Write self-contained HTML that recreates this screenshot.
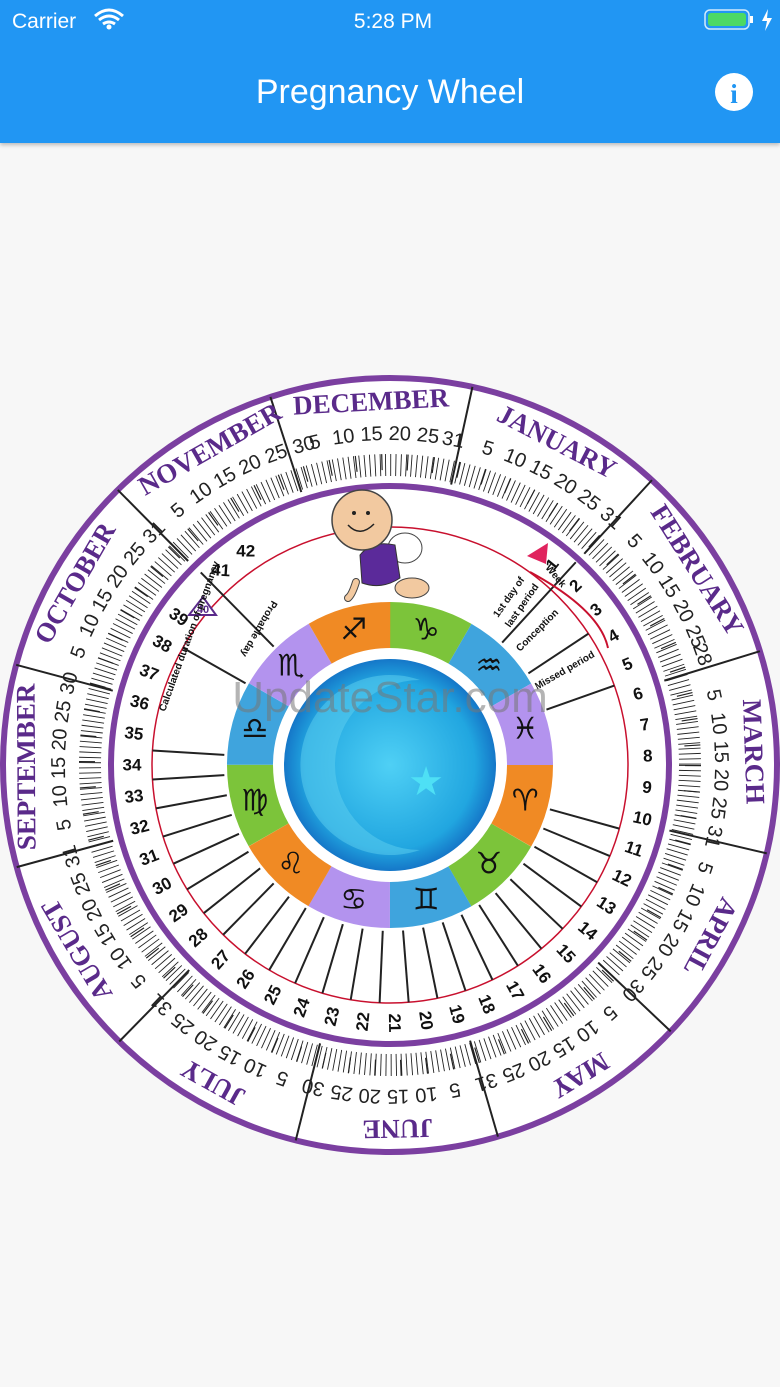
<!DOCTYPE html>
<html><head><meta charset="utf-8"><style>
body{margin:0;width:780px;height:1387px;background:#f7f7f7;font-family:"Liberation Sans",sans-serif;overflow:hidden;position:relative}
.bar{position:absolute;left:0;top:0;width:780px;height:143px;background:#2196f3;box-shadow:0 2px 4px rgba(0,0,0,.25)}
</style></head><body>
<div class="bar"></div>
<svg width="780" height="1387" style="position:absolute;left:0;top:0">
<defs>
<radialGradient id="cg" cx="50%" cy="50%" r="50%"><stop offset="0" stop-color="#4fd0f5"/><stop offset="0.8" stop-color="#21a6e0"/><stop offset="1" stop-color="#1577c8"/></radialGradient>
</defs>
<text x="12" y="28" font-size="21" fill="#fff">Carrier</text>
<path d="M95 16 q14 -12 28 0 M99 20 q10 -8 20 0 M103 24 q6 -4 12 0" stroke="#fff" stroke-width="3" fill="none"/>
<circle cx="109" cy="27" r="2.5" fill="#fff"/>
<text x="393" y="28" font-size="21" fill="#fff" text-anchor="middle">5:28 PM</text>
<rect x="705" y="10" width="44" height="19" rx="5" fill="none" stroke="#fff" stroke-width="1.5" opacity=".8"/>
<rect x="708" y="13" width="38" height="13" rx="3" fill="#4cd964"/>
<rect x="750" y="16" width="3" height="7" fill="#fff"/>
<path d="M768 9 l-6 12 h5 l-2 10 7-13 h-5z" fill="#fff"/>
<text x="390" y="103" font-size="34" fill="#fff" text-anchor="middle">Pregnancy Wheel</text>
<circle cx="734" cy="92" r="19" fill="#fff"/>
<text x="734" y="103" font-size="27" font-weight="bold" fill="#2196f3" text-anchor="middle" font-family="Liberation Serif">i</text>

<g>
<circle cx="390" cy="765" r="387" fill="#fff" stroke="#7b3fa0" stroke-width="6"/>
<circle cx="390" cy="765" r="300" fill="none" stroke="#222" stroke-width="22" stroke-dasharray="0.9 4.26"/>
<circle cx="390" cy="765" r="303" fill="none" stroke="#222" stroke-width="16" stroke-dasharray="1.2 24.6"/>
<circle cx="390" cy="765" r="279" fill="#fff" stroke="#7b3fa0" stroke-width="6"/>
<circle cx="390" cy="765" r="238" fill="none" stroke="#c8102e" stroke-width="1.5"/>
<g stroke="#222" stroke-width="2">
<line x1="390" y1="378" x2="390" y2="478" transform="rotate(-18 390 765)"/>
<line x1="390" y1="378" x2="390" y2="478" transform="rotate(12.3 390 765)"/>
<line x1="390" y1="378" x2="390" y2="478" transform="rotate(42.6 390 765)"/>
<line x1="390" y1="378" x2="390" y2="478" transform="rotate(72.9 390 765)"/>
<line x1="390" y1="378" x2="390" y2="478" transform="rotate(103.2 390 765)"/>
<line x1="390" y1="378" x2="390" y2="478" transform="rotate(133.5 390 765)"/>
<line x1="390" y1="378" x2="390" y2="478" transform="rotate(163.8 390 765)"/>
<line x1="390" y1="378" x2="390" y2="478" transform="rotate(194.1 390 765)"/>
<line x1="390" y1="378" x2="390" y2="478" transform="rotate(224.4 390 765)"/>
<line x1="390" y1="378" x2="390" y2="478" transform="rotate(254.7 390 765)"/>
<line x1="390" y1="378" x2="390" y2="478" transform="rotate(285 390 765)"/>
<line x1="390" y1="378" x2="390" y2="478" transform="rotate(315.3 390 765)"/>
</g>
<g font-family="Liberation Serif" font-size="27" fill="#5a2a8a" text-anchor="middle" font-weight="bold">
<text x="390" y="410" transform="rotate(-3 390 765)">DECEMBER</text>
<text x="390" y="410" transform="rotate(27.3 390 765)">JANUARY</text>
<text x="390" y="410" transform="rotate(57.6 390 765)">FEBRUARY</text>
<text x="390" y="410" transform="rotate(87.9 390 765)">MARCH</text>
<text x="390" y="410" transform="rotate(118.2 390 765)">APRIL</text>
<text x="390" y="410" transform="rotate(148.5 390 765)">MAY</text>
<text x="390" y="410" transform="rotate(178.8 390 765)">JUNE</text>
<text x="390" y="410" transform="rotate(209.1 390 765)">JULY</text>
<text x="390" y="410" transform="rotate(239.4 390 765)">AUGUST</text>
<text x="390" y="410" transform="rotate(269.7 390 765)">SEPTEMBER</text>
<text x="390" y="410" transform="rotate(300 390 765)">OCTOBER</text>
<text x="390" y="410" transform="rotate(330.3 390 765)">NOVEMBER</text>
</g>
<g font-size="20" fill="#222" text-anchor="middle">
<text x="390" y="440" transform="rotate(-13.1 390 765)">5</text><text x="390" y="440" transform="rotate(-8.1 390 765)">10</text><text x="390" y="440" transform="rotate(-3.2 390 765)">15</text><text x="390" y="440" transform="rotate(1.7 390 765)">20</text><text x="390" y="440" transform="rotate(6.6 390 765)">25</text><text x="390" y="440" transform="rotate(11 390 765)">31</text>
<text x="390" y="440" transform="rotate(17.2 390 765)">5</text><text x="390" y="440" transform="rotate(22.2 390 765)">10</text><text x="390" y="440" transform="rotate(27.1 390 765)">15</text><text x="390" y="440" transform="rotate(32 390 765)">20</text><text x="390" y="440" transform="rotate(36.9 390 765)">25</text><text x="390" y="440" transform="rotate(41.9 390 765)">31</text>
<text x="390" y="440" transform="rotate(47.5 390 765)">5</text><text x="390" y="440" transform="rotate(52.5 390 765)">10</text><text x="390" y="440" transform="rotate(57.4 390 765)">15</text><text x="390" y="440" transform="rotate(62.3 390 765)">20</text><text x="390" y="440" transform="rotate(67.2 390 765)">25</text><text x="390" y="440" transform="rotate(70.5 390 765)">28</text>
<text x="390" y="440" transform="rotate(77.8 390 765)">5</text><text x="390" y="440" transform="rotate(82.8 390 765)">10</text><text x="390" y="440" transform="rotate(87.7 390 765)">15</text><text x="390" y="440" transform="rotate(92.6 390 765)">20</text><text x="390" y="440" transform="rotate(97.5 390 765)">25</text><text x="390" y="440" transform="rotate(102.5 390 765)">31</text>
<text x="390" y="440" transform="rotate(108.1 390 765)">5</text><text x="390" y="440" transform="rotate(113.1 390 765)">10</text><text x="390" y="440" transform="rotate(118 390 765)">15</text><text x="390" y="440" transform="rotate(122.9 390 765)">20</text><text x="390" y="440" transform="rotate(127.8 390 765)">25</text><text x="390" y="440" transform="rotate(132.8 390 765)">30</text>
<text x="390" y="440" transform="rotate(138.4 390 765)">5</text><text x="390" y="440" transform="rotate(143.4 390 765)">10</text><text x="390" y="440" transform="rotate(148.3 390 765)">15</text><text x="390" y="440" transform="rotate(153.2 390 765)">20</text><text x="390" y="440" transform="rotate(158.1 390 765)">25</text><text x="390" y="440" transform="rotate(163.1 390 765)">31</text>
<text x="390" y="440" transform="rotate(168.7 390 765)">5</text><text x="390" y="440" transform="rotate(173.7 390 765)">10</text><text x="390" y="440" transform="rotate(178.6 390 765)">15</text><text x="390" y="440" transform="rotate(183.5 390 765)">20</text><text x="390" y="440" transform="rotate(188.4 390 765)">25</text><text x="390" y="440" transform="rotate(193.4 390 765)">30</text>
<text x="390" y="440" transform="rotate(199 390 765)">5</text><text x="390" y="440" transform="rotate(204 390 765)">10</text><text x="390" y="440" transform="rotate(208.9 390 765)">15</text><text x="390" y="440" transform="rotate(213.8 390 765)">20</text><text x="390" y="440" transform="rotate(218.7 390 765)">25</text><text x="390" y="440" transform="rotate(223.7 390 765)">31</text>
<text x="390" y="440" transform="rotate(229.3 390 765)">5</text><text x="390" y="440" transform="rotate(234.3 390 765)">10</text><text x="390" y="440" transform="rotate(239.2 390 765)">15</text><text x="390" y="440" transform="rotate(244.1 390 765)">20</text><text x="390" y="440" transform="rotate(249 390 765)">25</text><text x="390" y="440" transform="rotate(254 390 765)">31</text>
<text x="390" y="440" transform="rotate(259.6 390 765)">5</text><text x="390" y="440" transform="rotate(264.6 390 765)">10</text><text x="390" y="440" transform="rotate(269.5 390 765)">15</text><text x="390" y="440" transform="rotate(274.4 390 765)">20</text><text x="390" y="440" transform="rotate(279.3 390 765)">25</text><text x="390" y="440" transform="rotate(284.3 390 765)">30</text>
<text x="390" y="440" transform="rotate(289.9 390 765)">5</text><text x="390" y="440" transform="rotate(294.9 390 765)">10</text><text x="390" y="440" transform="rotate(299.8 390 765)">15</text><text x="390" y="440" transform="rotate(304.7 390 765)">20</text><text x="390" y="440" transform="rotate(309.6 390 765)">25</text><text x="390" y="440" transform="rotate(314.6 390 765)">31</text>
<text x="390" y="440" transform="rotate(320.2 390 765)">5</text><text x="390" y="440" transform="rotate(325.2 390 765)">10</text><text x="390" y="440" transform="rotate(330.1 390 765)">15</text><text x="390" y="440" transform="rotate(335 390 765)">20</text><text x="390" y="440" transform="rotate(339.9 390 765)">25</text><text x="390" y="440" transform="rotate(344.9 390 765)">30</text>
</g>
<g stroke="#222" stroke-width="2">
<line x1="390" y1="603" x2="390" y2="527" transform="rotate(105.5 390 765)"/>
<line x1="390" y1="603" x2="390" y2="527" transform="rotate(112.5 390 765)"/>
<line x1="390" y1="603" x2="390" y2="527" transform="rotate(119.5 390 765)"/>
<line x1="390" y1="603" x2="390" y2="527" transform="rotate(126.5 390 765)"/>
<line x1="390" y1="603" x2="390" y2="527" transform="rotate(133.5 390 765)"/>
<line x1="390" y1="603" x2="390" y2="527" transform="rotate(140.5 390 765)"/>
<line x1="390" y1="603" x2="390" y2="527" transform="rotate(147.5 390 765)"/>
<line x1="390" y1="603" x2="390" y2="527" transform="rotate(154.5 390 765)"/>
<line x1="390" y1="603" x2="390" y2="527" transform="rotate(161.5 390 765)"/>
<line x1="390" y1="603" x2="390" y2="527" transform="rotate(168.5 390 765)"/>
<line x1="390" y1="603" x2="390" y2="527" transform="rotate(175.5 390 765)"/>
<line x1="390" y1="603" x2="390" y2="527" transform="rotate(182.5 390 765)"/>
<line x1="390" y1="603" x2="390" y2="527" transform="rotate(189.5 390 765)"/>
<line x1="390" y1="603" x2="390" y2="527" transform="rotate(196.5 390 765)"/>
<line x1="390" y1="603" x2="390" y2="527" transform="rotate(203.5 390 765)"/>
<line x1="390" y1="603" x2="390" y2="527" transform="rotate(210.5 390 765)"/>
<line x1="390" y1="603" x2="390" y2="527" transform="rotate(217.5 390 765)"/>
<line x1="390" y1="603" x2="390" y2="527" transform="rotate(224.5 390 765)"/>
<line x1="390" y1="603" x2="390" y2="527" transform="rotate(231.5 390 765)"/>
<line x1="390" y1="603" x2="390" y2="527" transform="rotate(238.5 390 765)"/>
<line x1="390" y1="603" x2="390" y2="527" transform="rotate(245.5 390 765)"/>
<line x1="390" y1="603" x2="390" y2="527" transform="rotate(252.5 390 765)"/>
<line x1="390" y1="603" x2="390" y2="527" transform="rotate(259.5 390 765)"/>
<line x1="390" y1="603" x2="390" y2="527" transform="rotate(266.5 390 765)"/>
<line x1="390" y1="603" x2="390" y2="527" transform="rotate(273.5 390 765)"/>
<line x1="390" y1="603" x2="390" y2="490" transform="rotate(42.5 390 765)"/>
<line x1="390" y1="603" x2="390" y2="527" transform="rotate(56.5 390 765)"/>
<line x1="390" y1="603" x2="390" y2="527" transform="rotate(70.5 390 765)"/>
<line x1="390" y1="603" x2="390" y2="527" transform="rotate(299.5 390 765)"/>
<line x1="390" y1="603" x2="390" y2="495" transform="rotate(315.5 390 765)"/>
</g>
<g font-size="17" font-weight="bold" fill="#111" text-anchor="middle" dominant-baseline="central">
<text x="390" y="507" transform="rotate(39 390 765) rotate(-90 390 507)">1</text>
<text x="390" y="507" transform="rotate(46 390 765) rotate(-90 390 507)">2</text>
<text x="390" y="507" transform="rotate(53 390 765) rotate(-90 390 507)">3</text>
<text x="390" y="507" transform="rotate(60 390 765) rotate(-90 390 507)">4</text>
<text x="390" y="507" transform="rotate(67 390 765) rotate(-90 390 507)">5</text>
<text x="390" y="507" transform="rotate(74 390 765) rotate(-90 390 507)">6</text>
<text x="390" y="507" transform="rotate(81 390 765) rotate(-90 390 507)">7</text>
<text x="390" y="507" transform="rotate(88 390 765) rotate(-90 390 507)">8</text>
<text x="390" y="507" transform="rotate(95 390 765) rotate(-90 390 507)">9</text>
<text x="390" y="507" transform="rotate(102 390 765) rotate(-90 390 507)">10</text>
<text x="390" y="507" transform="rotate(109 390 765) rotate(-90 390 507)">11</text>
<text x="390" y="507" transform="rotate(116 390 765) rotate(-90 390 507)">12</text>
<text x="390" y="507" transform="rotate(123 390 765) rotate(-90 390 507)">13</text>
<text x="390" y="507" transform="rotate(130 390 765) rotate(-90 390 507)">14</text>
<text x="390" y="507" transform="rotate(137 390 765) rotate(-90 390 507)">15</text>
<text x="390" y="507" transform="rotate(144 390 765) rotate(-90 390 507)">16</text>
<text x="390" y="507" transform="rotate(151 390 765) rotate(-90 390 507)">17</text>
<text x="390" y="507" transform="rotate(158 390 765) rotate(-90 390 507)">18</text>
<text x="390" y="507" transform="rotate(165 390 765) rotate(-90 390 507)">19</text>
<text x="390" y="507" transform="rotate(172 390 765) rotate(-90 390 507)">20</text>
<text x="390" y="507" transform="rotate(179 390 765) rotate(-90 390 507)">21</text>
<text x="390" y="507" transform="rotate(186 390 765) rotate(90 390 507)">22</text>
<text x="390" y="507" transform="rotate(193 390 765) rotate(90 390 507)">23</text>
<text x="390" y="507" transform="rotate(200 390 765) rotate(90 390 507)">24</text>
<text x="390" y="507" transform="rotate(207 390 765) rotate(90 390 507)">25</text>
<text x="390" y="507" transform="rotate(214 390 765) rotate(90 390 507)">26</text>
<text x="390" y="507" transform="rotate(221 390 765) rotate(90 390 507)">27</text>
<text x="390" y="507" transform="rotate(228 390 765) rotate(90 390 507)">28</text>
<text x="390" y="507" transform="rotate(235 390 765) rotate(90 390 507)">29</text>
<text x="390" y="507" transform="rotate(242 390 765) rotate(90 390 507)">30</text>
<text x="390" y="507" transform="rotate(249 390 765) rotate(90 390 507)">31</text>
<text x="390" y="507" transform="rotate(256 390 765) rotate(90 390 507)">32</text>
<text x="390" y="507" transform="rotate(263 390 765) rotate(90 390 507)">33</text>
<text x="390" y="507" transform="rotate(270 390 765) rotate(90 390 507)">34</text>
<text x="390" y="507" transform="rotate(277 390 765) rotate(90 390 507)">35</text>
<text x="390" y="507" transform="rotate(284 390 765) rotate(90 390 507)">36</text>
<text x="390" y="507" transform="rotate(291 390 765) rotate(90 390 507)">37</text>
<text x="390" y="507" transform="rotate(298 390 765) rotate(90 390 507)">38</text>
<text x="390" y="507" transform="rotate(305 390 765) rotate(90 390 507)">39</text>
<text x="390" y="507" transform="rotate(319 390 765) rotate(45 390 507)">41</text>
<text x="390" y="507" transform="rotate(326 390 765) rotate(34 390 507)">42</text>
</g>
<polygon points="203,597 189,615 216,615" fill="#fff" stroke="#5a2a8a" stroke-width="2"/>
<text x="203" y="613" font-size="11" fill="#5a2a8a" text-anchor="middle" font-weight="bold">40</text>
<g font-size="10" font-weight="bold" fill="#111">
<text x="0" y="0" transform="translate(165,712) rotate(-70)">Calculated duration of pregnancy</text>
<text x="0" y="0" transform="translate(272,600) rotate(120)">Probable day</text>
<text x="0" y="0" transform="translate(498,618) rotate(-55)">1st day of</text>
<text x="0" y="0" transform="translate(510,628) rotate(-55)">last period</text>
<text x="0" y="0" transform="translate(520,652) rotate(-45)">Conception</text>
<text x="0" y="0" transform="translate(537,690) rotate(-30)">Missed period</text>
<text x="0" y="0" transform="translate(545,568) rotate(50)">Week</text>
</g>
<path d="M530 572 Q600 610 608 648" stroke="#c8102e" stroke-width="2" fill="none"/>
<polygon points="548,543 527,556 546,564" fill="#e0245e"/>
<circle cx="390" cy="765" r="166" fill="#fff"/>
<g fill="none" stroke-width="46" stroke-dasharray="73.3 219.9">
<circle cx="390" cy="765" r="140" stroke="#7cc43a" transform="rotate(-90 390 765)"/>
<circle cx="390" cy="765" r="140" stroke="#3fa4dd" transform="rotate(-60 390 765)"/>
<circle cx="390" cy="765" r="140" stroke="#b393ee" transform="rotate(-30 390 765)"/>
<circle cx="390" cy="765" r="140" stroke="#f08a24" transform="rotate(0 390 765)"/>
</g>
<g font-size="30" fill="#111" text-anchor="middle" dominant-baseline="central" font-family="DejaVu Sans">
<text x="390" y="625" transform="rotate(15 390 765) rotate(-15 390 625)">♑</text>
<text x="390" y="625" transform="rotate(45 390 765) rotate(-45 390 625)">♒</text>
<text x="390" y="625" transform="rotate(75 390 765) rotate(-75 390 625)">♓</text>
<text x="390" y="625" transform="rotate(105 390 765) rotate(-105 390 625)">♈</text>
<text x="390" y="625" transform="rotate(135 390 765) rotate(-135 390 625)">♉</text>
<text x="390" y="625" transform="rotate(165 390 765) rotate(-165 390 625)">♊</text>
<text x="390" y="625" transform="rotate(195 390 765) rotate(-195 390 625)">♋</text>
<text x="390" y="625" transform="rotate(225 390 765) rotate(-225 390 625)">♌</text>
<text x="390" y="625" transform="rotate(255 390 765) rotate(-255 390 625)">♍</text>
<text x="390" y="625" transform="rotate(285 390 765) rotate(-285 390 625)">♎</text>
<text x="390" y="625" transform="rotate(315 390 765) rotate(-315 390 625)">♏</text>
<text x="390" y="625" transform="rotate(345 390 765) rotate(-345 390 625)">♐</text>
</g>
<circle cx="390" cy="765" r="114" fill="#fff"/>
<circle cx="390" cy="765" r="106" fill="url(#cg)"/>
<path d="M420 680 A90 90 0 1 1 420 850 A70 70 0 1 0 420 680Z" fill="#5fd0f0" opacity=".5" transform="rotate(180 420 765)"/>
<text x="426" y="795" font-size="40" fill="#4ee0f5" text-anchor="middle">★</text>
<!-- baby -->
<ellipse cx="405" cy="548" rx="17" ry="15" fill="#fff" stroke="#444"/>
<ellipse cx="412" cy="588" rx="17" ry="10" fill="#f2c9a0" stroke="#444"/>
<path d="M356 582 Q352 595 348 598" stroke="#444" stroke-width="8" stroke-linecap="round"/>
<path d="M356 582 Q352 595 348 598" stroke="#f2c9a0" stroke-width="6" stroke-linecap="round"/>
<path d="M360 555 Q372 540 395 545 L400 578 Q382 590 362 583Z" fill="#5b2a9a" stroke="#333"/>
<circle cx="362" cy="520" r="30" fill="#f2c9a0" stroke="#444" stroke-width="1.5"/>
<circle cx="354" cy="513" r="2" fill="#222"/><circle cx="368" cy="513" r="2" fill="#222"/>
<path d="M348 525 Q360 538 374 524" stroke="#222" stroke-width="1.5" fill="none"/>
<text x="390" y="712" font-size="44" fill="#777" opacity=".55" text-anchor="middle">UpdateStar.com</text>
</g>
</svg>
</body></html>
